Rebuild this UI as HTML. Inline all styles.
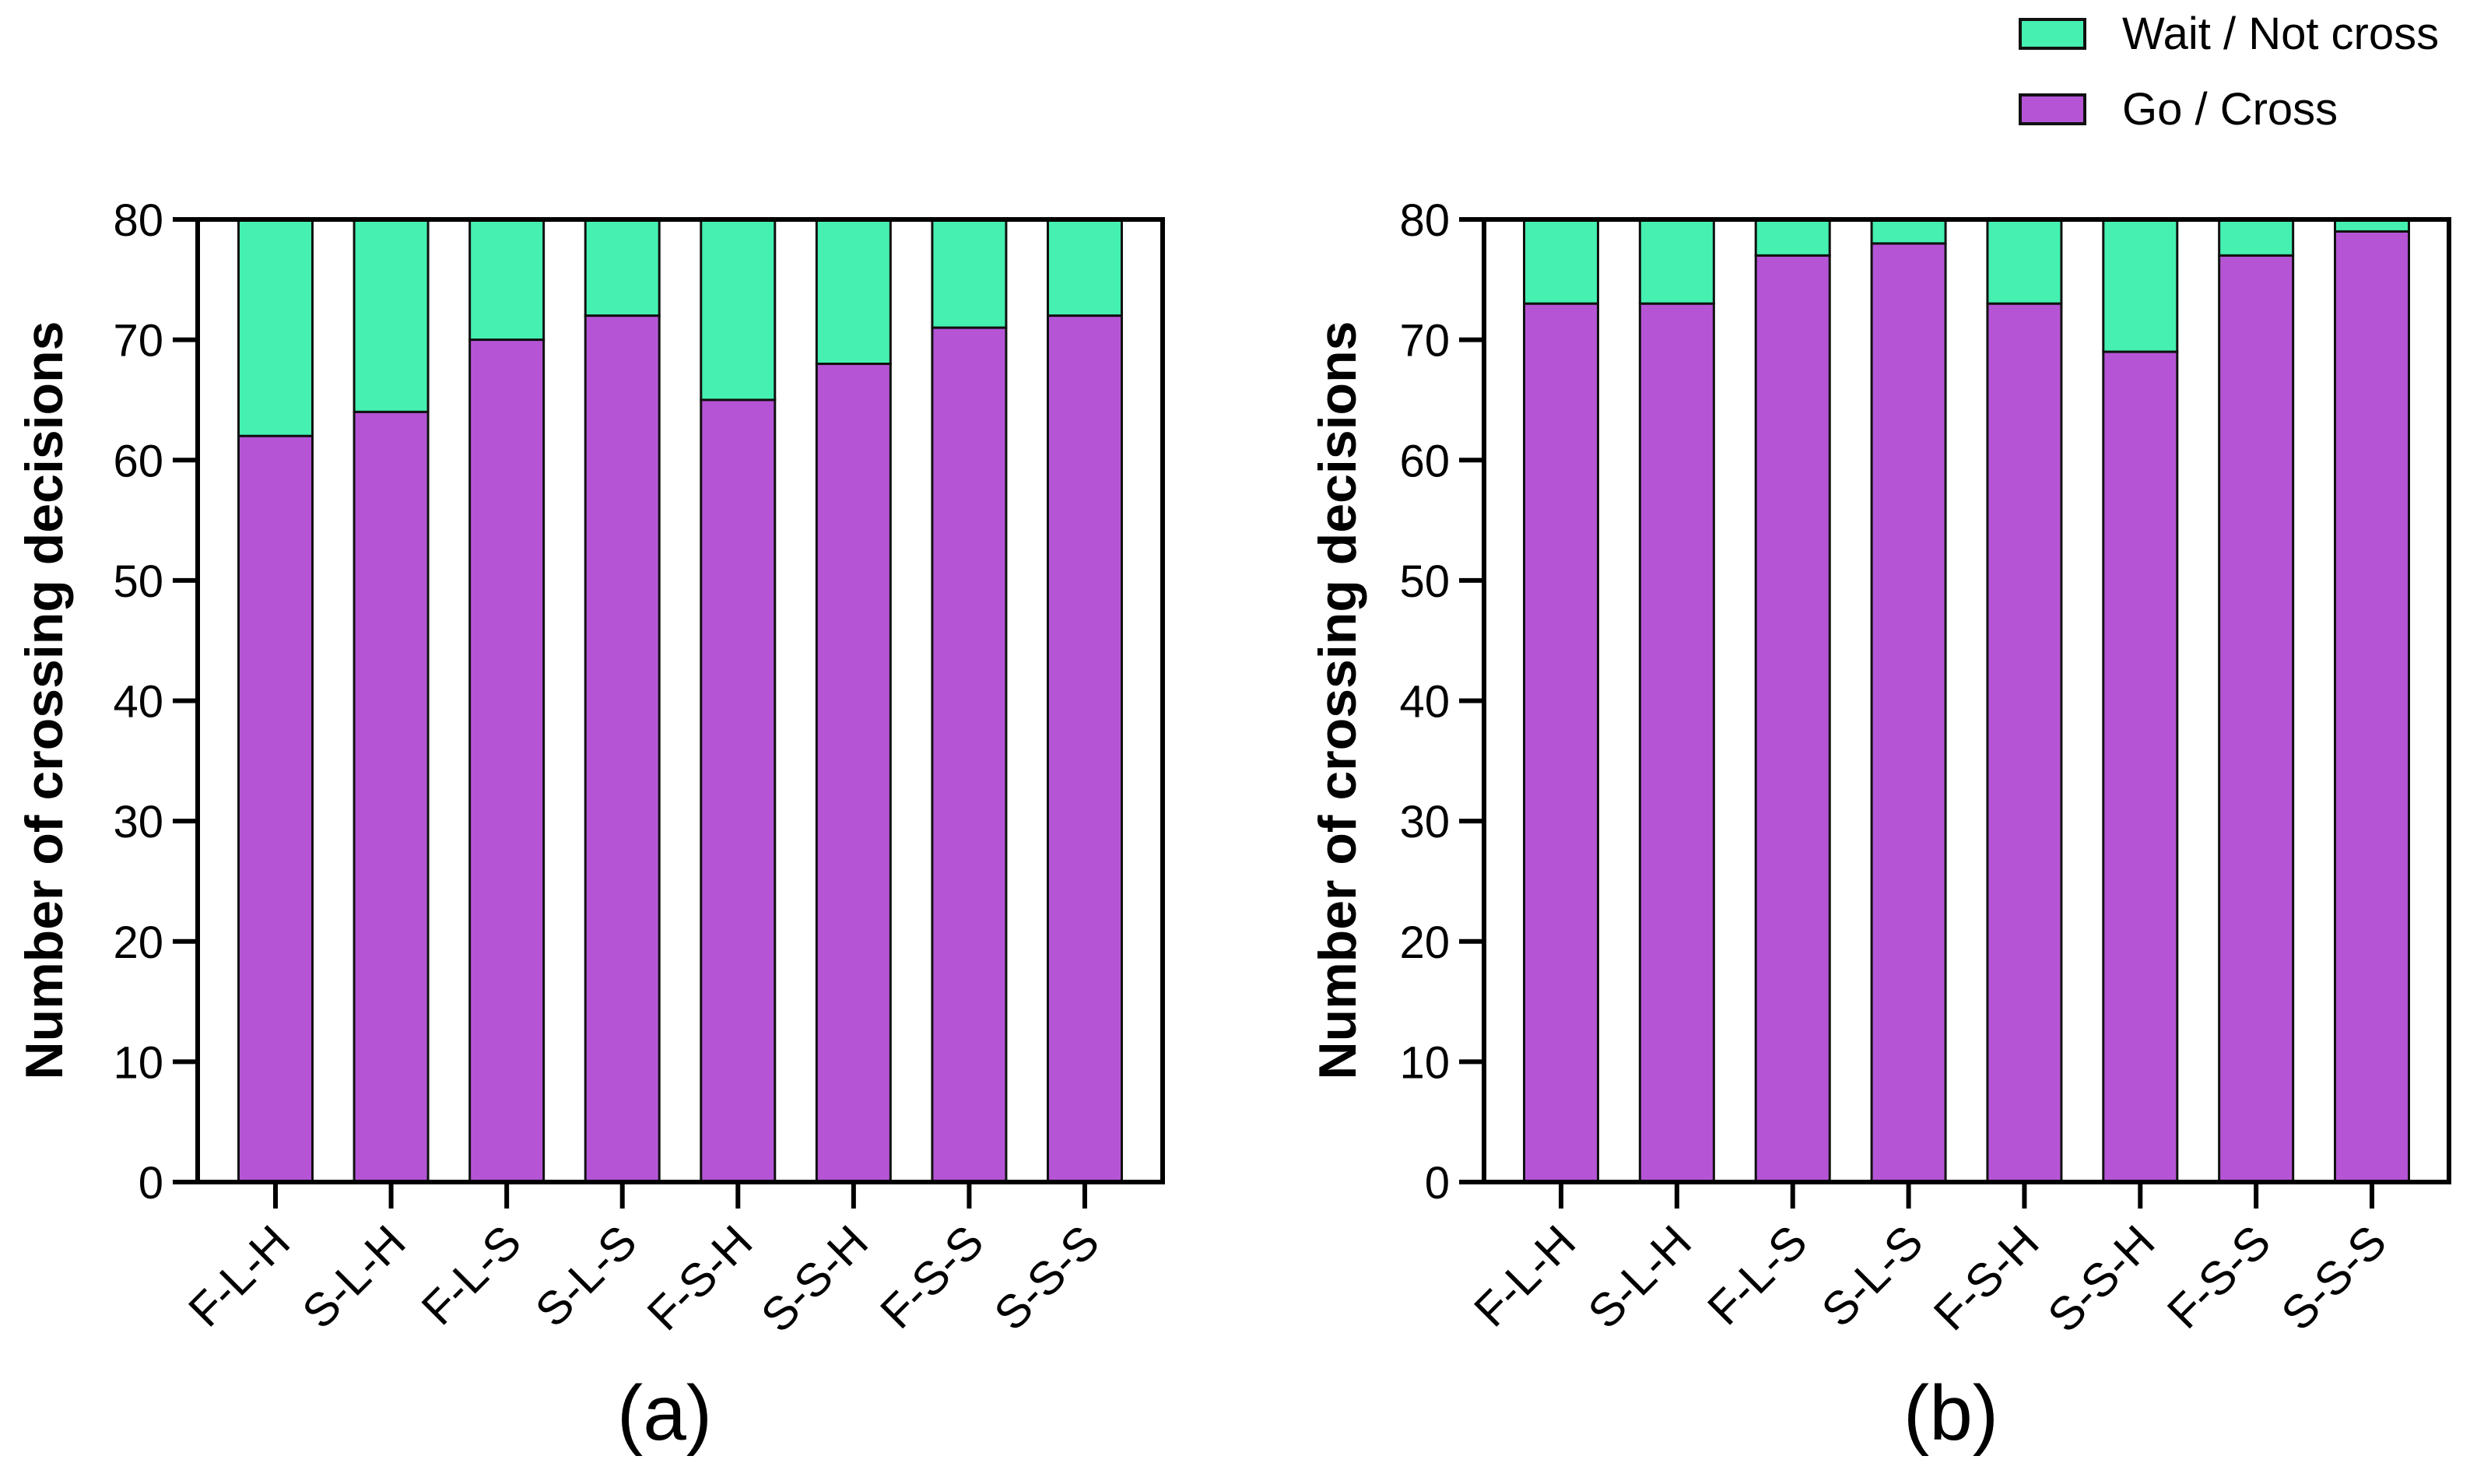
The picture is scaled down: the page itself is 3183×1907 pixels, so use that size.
<!DOCTYPE html>
<html><head><meta charset="utf-8">
<style>
html,body{margin:0;padding:0;background:#fff;}
svg{display:block;font-family:"Liberation Sans",Arial,sans-serif;}
</style></head>
<body>
<svg id="chart" width="3183" height="1907" viewBox="0 0 3183 1907" xmlns="http://www.w3.org/2000/svg">
  <g>
    <rect x="2596" y="25" width="83" height="37" fill="#45F0B0" stroke="#111" stroke-width="4"/>
    <text x="2727" y="63" font-size="58">Wait / Not cross</text>
    <rect x="2596" y="122" width="83" height="37" fill="#B555D6" stroke="#111" stroke-width="4"/>
    <text x="2727" y="160" font-size="58">Go / Cross</text>
  </g>
</svg>
<script>
const categories = ["F-L-H","S-L-H","F-L-S","S-L-S","F-S-H","S-S-H","F-S-S","S-S-S"];
const goA = [62,64,70,72,65,68,71,72];
const goB = [73,73,77,78,73,69,77,79];
const totalA = [80,80,80,80,80,80,80,80];
const totalB = [80,80,80,80,80,80,80,80];
const yTicks = [0,10,20,30,40,50,60,70,80];
const panelLabels = ["(a)","(b)"];

const NS = "http://www.w3.org/2000/svg";
const svg = document.getElementById("chart");
function mk(tag, attrs, parent) {
  const e = document.createElementNS(NS, tag);
  for (const k in attrs) e.setAttribute(k, attrs[k]);
  parent.appendChild(e);
  return e;
}
function drawPanel(idx, go, total, left, right, pad, titleX) {
  const top = 282, bottom = 1519, yMax = 80;
  const y = v => bottom - (v / yMax) * (bottom - top);
  const step = (right - left - 2 * pad) / (categories.length - 1);
  const x = i => left + pad + i * step;
  const bw = 95;
  const g = mk("g", {}, svg);
  
  

  categories.forEach((c, i) => {
    const cx = x(i);
    const wait = mk("rect", {x: cx - bw/2, y: y(total[i]), width: bw, height: y(go[i]) - y(total[i]), fill: "#45F0B0", stroke: "#111", "stroke-width": 3}, g);
    
    
    const gob = mk("rect", {x: cx - bw/2, y: y(go[i]), width: bw, height: y(0) - y(go[i]), fill: "#B555D6", stroke: "#111", "stroke-width": 3}, g);
    
    
    const t = mk("line", {x1: cx, x2: cx, y1: bottom, y2: bottom + 34, stroke: "#000", "stroke-width": 6}, g);
    
    
    const lx = cx + 22, ly = 1600;
    const lab = mk("text", {x: lx, y: ly, "text-anchor": "end", "font-size": 60, transform: "rotate(-45 " + lx + " " + ly + ")"}, g);
    lab.textContent = c;
    
    
  });

  const frame = mk("path", {d: "M" + left + " " + top + " H" + right + " V" + bottom + " H" + left + " Z", fill: "none", stroke: "#000", "stroke-width": 6}, g);
  
  

  yTicks.forEach(v => {
    const tk = mk("line", {x1: left - 32, x2: left, y1: y(v), y2: y(v), stroke: "#000", "stroke-width": 6}, g);
    
    
    const tl = mk("text", {x: left - 44, y: y(v) + 21, "text-anchor": "end", "font-size": 58}, g);
    tl.textContent = v;
    
    
  });

  const ty = 900;
  const title = mk("text", {x: titleX, y: ty, "text-anchor": "middle", "font-size": 68, "font-weight": "bold", transform: "rotate(-90 " + titleX + " " + ty + ")"}, g);
  title.textContent = "Number of crossing decisions";
  
  

  const pl = mk("text", {x: (left + right) / 2 - 20, y: 1850, "text-anchor": "middle", "font-size": 100}, g);
  pl.textContent = panelLabels[idx];
  
  
}
drawPanel(0, goA, totalA, 254, 1494, 100, 80);
drawPanel(1, goB, totalB, 1907, 3147, 99, 1742);
</script>
</body></html>
